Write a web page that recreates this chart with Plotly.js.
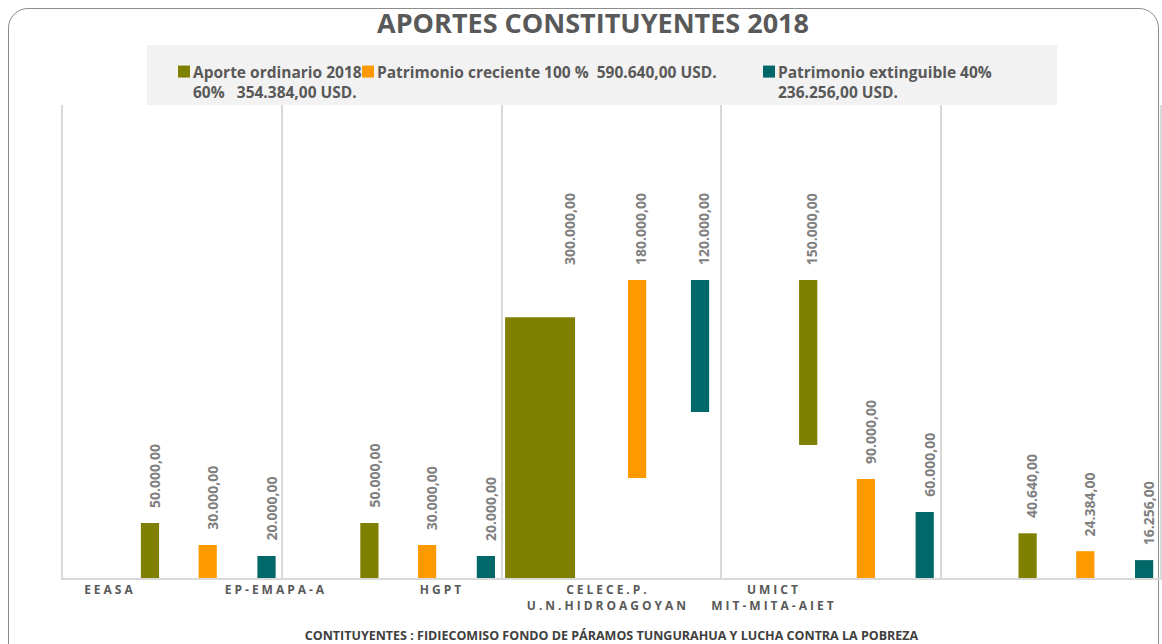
<!DOCTYPE html>
<html>
<head>
<meta charset="utf-8">
<script src="https://cdn.plot.ly/plotly-3.0.1.min.js"></script>
<style>
  html, body { margin: 0; padding: 0; background: #ffffff; }
  #frame { position: absolute; left: 8px; top: 8px; width: 1151px; height: 700px;
           border: 1px solid #8c8c8c; border-radius: 20px; box-sizing: border-box; z-index: 0; }
  #chart { position: absolute; left: 0; top: 0; width: 1162px; height: 644px; z-index: 1; }
  .xtick text { letter-spacing: 3px; }
  .legendsymbols { transform: translate(11px, 0px); }
</style>
</head>
<body>
<div id="frame"></div>
<div id="chart"></div>
<script>
// ---------------- data ----------------
const categories = ["EEASA", "EP-EMAPA-A", "HGPT", "CELECE.P.<br>U.N.HIDROAGOYAN", "UMICT<br>MIT-MITA-AIET"];
const aporteOrdinario = [50000, 50000, 300000, 150000, 40640];
const patrimonioCreciente = [30000, 30000, 180000, 90000, 24384];
const patrimonioExtinguible = [20000, 20000, 120000, 60000, 16256];
const seriesNames = [
  "Aporte ordinario 2018<br>60%\u00a0\u00a0\u00a0354.384,00 USD.",
  "Patrimonio creciente 100 %\u00a0\u00a0590.640,00 USD.",
  "Patrimonio extinguible 40%<br>236.256,00 USD."
];
const chartTitle = "APORTES CONSTITUYENTES 2018";
const footnote = "CONTITUYENTES : FIDIECOMISO FONDO DE PÁRAMOS TUNGURAHUA Y LUCHA CONTRA LA POBREZA";

// ---------------- styling (as drawn in the reference) ----------------
const colors = ["#808000", "#ff9900", "#006868"];
const barOffsets = [
  [0.355, 0.355, 0.015, 0.355, 0.355],
  [0.618, 0.618, 0.575, 0.618, 0.618],
  [0.886, 0.886, 0.862, 0.886, 0.886]
];
const barWidths = [
  [0.083, 0.083, 0.319, 0.083, 0.083],
  [0.083, 0.083, 0.083, 0.083, 0.083],
  [0.083, 0.083, 0.083, 0.083, 0.083]
];
// the reference draws some bars floating / cut off
const barBases = [
  [0, 0, -63000, 121000, 0],
  [0, 0, 91000, 0, 0],
  [0, 0, 151000, 0, 0]
];
const labelCap = 271000;
// category labels in the reference sit on their own spacing, not under the groups
const labelStart = 0.214, labelStep = 0.7566;
const legendPos = [ {x: 193, y: 55}, {x: 377, y: 55}, {x: 778, y: 55} ];

const W = 1162, H = 644;
const values = [aporteOrdinario, patrimonioCreciente, patrimonioExtinguible];
const idx = categories.map((_, i) => i);

function fmt(v) {
  const parts = v.toFixed(2).split(".");
  const intPart = parts[0].replace(/\B(?=(\d{3})+(?!\d))/g, ".");
  return intPart + "," + parts[1];
}

const traces = values.map((vals, s) => ({
  type: "bar",
  name: seriesNames[s],
  x: idx,
  y: vals,
  base: barBases[s],
  offset: barOffsets[s],
  width: barWidths[s],
  marker: { color: colors[s] },
  legend: s === 0 ? "legend" : "legend" + (s + 1),
  hovertemplate: "%{y:,.2f}<extra></extra>"
}));

const annotations = [];
values.forEach((vals, s) => {
  vals.forEach((v, i) => {
    const top = barBases[s][i] + v;
    const ly = Math.min(Math.max(v, top), labelCap);
    annotations.push({
      x: i + barOffsets[s][i] + barWidths[s][i],
      y: ly,
      xref: "x", yref: "y",
      text: fmt(v),
      textangle: -90,
      showarrow: false,
      xanchor: "center", yanchor: "bottom",
      xshift: -5, yshift: 13,
      font: { family: "Open Sans", size: 14, weight: "bold", color: "#808080" }
    });
  });
});

const legendFont = { family: "Open Sans", size: 15.5, weight: "bold", color: "#595959" };
function legendCfg(p) {
  return {
    x: (p.x - 40) / W, y: 1 - p.y / H, xref: "container", yref: "container",
    xanchor: "left", yanchor: "top", bgcolor: "rgba(0,0,0,0)",
    font: legendFont, valign: "top", orientation: "h", itemclick: false, itemdoubleclick: false
  };
}

const layout = {
  width: W, height: H,
  margin: { l: 63, r: 2, t: 105, b: 66, pad: 0, autoexpand: false },
  paper_bgcolor: "rgba(0,0,0,0)",
  plot_bgcolor: "rgba(0,0,0,0)",
  barmode: "overlay",
  showlegend: true,
  title: {
    text: chartTitle,
    font: { family: "Open Sans", size: 27, weight: "bold", color: "#595959" },
    xref: "container", yref: "container",
    x: 593 / W, xanchor: "center", y: 1 - 24 / H, yanchor: "middle"
  },
  xaxis: {
    type: "linear", range: [0, 5],
    tickvals: idx.map(i => labelStart + i * labelStep),
    ticktext: categories,
    ticks: "", ticklen: 0,
    tickfont: { family: "Open Sans", size: 12, weight: "bold", color: "#595959" },
    showgrid: false,
    minor: { tickvals: [0, 1, 2, 3, 4, 5], showgrid: true, gridcolor: "#d9d9d9", gridwidth: 2, ticks: "" },
    zeroline: false,
    showline: true, linecolor: "#d9d9d9", linewidth: 2,
    title: {
      text: footnote, standoff: 22,
      font: { family: "Open Sans", size: 12.5, weight: "bold", color: "#404040" }
    },
    automargin: false,
    fixedrange: true
  },
  yaxis: {
    range: [0, 430000], showticklabels: false, ticks: "",
    showgrid: false, zeroline: false,
    showline: true, linecolor: "#d9d9d9", linewidth: 2, mirror: true,
    fixedrange: true
  },
  shapes: [{
    type: "rect", xref: "paper", yref: "paper", layer: "below",
    x0: (147 - 63) / 1097, x1: (1057 - 63) / 1097,
    y0: 1, y1: 1 + (105 - 45) / 473,
    fillcolor: "#f2f2f2", line: { width: 0 }
  }],
  annotations: annotations,
  legend: legendCfg(legendPos[0]),
  legend2: legendCfg(legendPos[1]),
  legend3: legendCfg(legendPos[2])
};

Plotly.newPlot("chart", traces, layout, { displayModeBar: false, staticPlot: true });
</script>
</body>
</html>
